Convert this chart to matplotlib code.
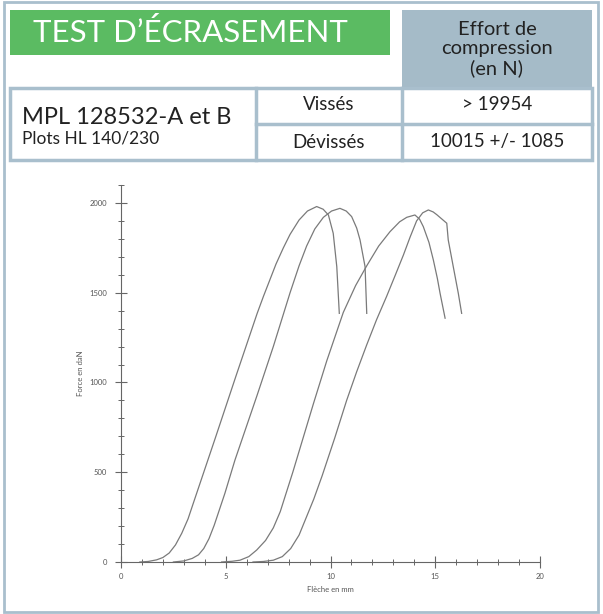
import matplotlib
matplotlib.use("Agg")
import matplotlib.pyplot as plt
from matplotlib.patches import Rectangle
from matplotlib.lines import Line2D
from matplotlib.ticker import MultipleLocator

# crush test curves: deflection (mm) vs force (daN)
x1 = [0.9, 1.3, 1.7, 2.0, 2.3, 2.6, 2.9, 3.2, 3.45, 4.5, 5.5, 6.5, 6.8, 7.1, 7.4, 7.75, 8.07, 8.5,
      8.9, 9.34, 9.65, 9.9, 10.13, 10.3, 10.42]
y1 = [0, 3, 12, 25, 50, 95, 160, 240, 327, 690, 1040, 1385, 1480, 1570, 1660, 1750, 1825, 1905,
      1955, 1980, 1965, 1933, 1831, 1645, 1385]
x2 = [2.5, 3.0, 3.4, 3.7, 3.95, 4.2, 4.45, 4.96, 5.44, 6.5, 7.27, 8.07, 8.5, 8.86, 9.25, 9.66, 10.05,
      10.45, 10.75, 11.01, 11.25, 11.41, 11.65, 11.73]
y2 = [0, 6, 20, 40, 75, 130, 205, 383, 568, 930, 1200, 1500, 1650, 1760, 1855, 1920, 1955,
      1970, 1955, 1924, 1860, 1794, 1645, 1385]
x3 = [4.8, 5.3, 5.68, 6.1, 6.48, 6.9, 7.27, 7.6, 7.9, 8.2, 9.18, 9.82, 10.61, 11.2, 11.73, 12.3,
      12.84, 13.3, 13.64, 14.03, 14.25, 14.43, 14.7, 14.91, 15.1, 15.23, 15.47]
y3 = [0, 4, 10, 30, 67, 120, 190, 280, 390, 500, 880, 1120, 1390, 1540, 1650, 1760,
      1840, 1895, 1920, 1933, 1910, 1868, 1780, 1682, 1580, 1497, 1358]
x4 = [6.3, 6.8, 7.27, 7.7, 8.1, 8.5, 8.85, 9.2, 9.6, 10.2, 10.77, 11.25, 11.73, 12.2, 12.68, 13.1,
      13.48, 13.8, 14.11, 14.4, 14.67, 14.9, 15.07, 15.3, 15.55, 15.62, 15.86, 16.1, 16.26]
y4 = [0, 3, 10, 30, 75, 150, 250, 350, 480, 690, 900, 1060, 1210, 1350, 1480, 1600,
      1710, 1810, 1900, 1945, 1961, 1950, 1935, 1912, 1887, 1794, 1645, 1497, 1385]
curves = [(x1, y1), (x2, y2), (x3, y3), (x4, y4)]

title = "TEST D\u2019ÉCRASEMENT"
header = "Effort de\ncompression\n(en N)"
product = "MPL 128532-A et B"
subtitle = "Plots HL 140/230"
rows = ["Vissés", "Dévissés"]
values = ["> 19954", "10015 +/- 1085"]

W, H = 603, 614
FRAME = "#a9bfcd"
GREEN = "#5bbb62"
HEAD = "#a5bbc8"
plt.rcParams["font.family"] = ["Lato", "DejaVu Sans"]

fig = plt.figure(figsize=(W / 100, H / 100), dpi=100)


def fx(px):
    return px / W


def fy(py):
    return 1 - py / H


def rect(x0, y0, x1, y1, **kw):
    fig.patches.append(Rectangle((fx(x0), fy(y1)), fx(x1) - fx(x0), fy(y0) - fy(y1),
                                 transform=fig.transFigure, **kw))


def hline(x0, x1, y, **kw):
    fig.lines.append(Line2D([fx(x0), fx(x1)], [fy(y), fy(y)], transform=fig.transFigure, **kw))


def vline(x, y0, y1, **kw):
    fig.lines.append(Line2D([fx(x), fx(x)], [fy(y0), fy(y1)], transform=fig.transFigure, **kw))


# outer frame
rect(4, 2, 598, 612, fill=False, edgecolor=FRAME, linewidth=2)

# header boxes
rect(10, 10, 390, 55, facecolor=GREEN, edgecolor="none")
fig.text(fx(190), fy(32), title, color="white", fontsize=22.5, ha="center", va="center")
rect(402, 10, 592, 88, facecolor=HEAD, edgecolor="none")
fig.text(fx(497), fy(49), header, color="#222222", fontsize=14.5, ha="center", va="center",
         linespacing=1.15)

# table
rect(10, 88, 592, 160, fill=False, edgecolor=FRAME, linewidth=2.5)
vline(256, 88, 160, color=FRAME, linewidth=2.5)
vline(402, 88, 160, color=FRAME, linewidth=2.5)
hline(256, 592, 124, color=FRAME, linewidth=2.5)
fig.text(fx(22), fy(117), product, color="#222222", fontsize=17, ha="left", va="center")
fig.text(fx(22), fy(139), subtitle, color="#222222", fontsize=12.5, ha="left", va="center")
for i, (r, v) in enumerate(zip(rows, values)):
    yy = 104 if i == 0 else 142
    fig.text(fx(329), fy(yy), r, color="#222222", fontsize=13.5, ha="center", va="center")
    fig.text(fx(497), fy(yy), v, color="#222222", fontsize=13.5, ha="center", va="center")

# chart
ax = fig.add_axes([fx(121), fy(562), fx(540) - fx(121), fy(185) - fy(562)])
for xs, ys in curves:
    ax.plot(xs, ys, color="#7a7a7a", linewidth=0.9)
ax.set_xlim(0, 20)
ax.set_ylim(0, 2100)
for s in ["top", "right"]:
    ax.spines[s].set_visible(False)
for s in ["left", "bottom"]:
    ax.spines[s].set_color("#666666")
    ax.spines[s].set_linewidth(0.8)
ax.xaxis.set_major_locator(MultipleLocator(5))
ax.xaxis.set_minor_locator(MultipleLocator(1))
ax.yaxis.set_major_locator(MultipleLocator(500))
ax.yaxis.set_minor_locator(MultipleLocator(100))
ax.tick_params(which="major", direction="inout", length=8, width=0.8, color="#666666",
               labelsize=5.5, labelcolor="#555555", pad=6)
ax.tick_params(which="minor", direction="inout", length=5, width=0.7, color="#666666")
ax.tick_params(axis="x", which="major", pad=4)
ax.set_xlabel("Flèche en mm", fontsize=5.5, color="#555555", labelpad=4)
ax.set_ylabel("Force en daN", fontsize=5.5, color="#555555", labelpad=4)
ax.patch.set_alpha(0)

fig.savefig("out.png", dpi=100)
